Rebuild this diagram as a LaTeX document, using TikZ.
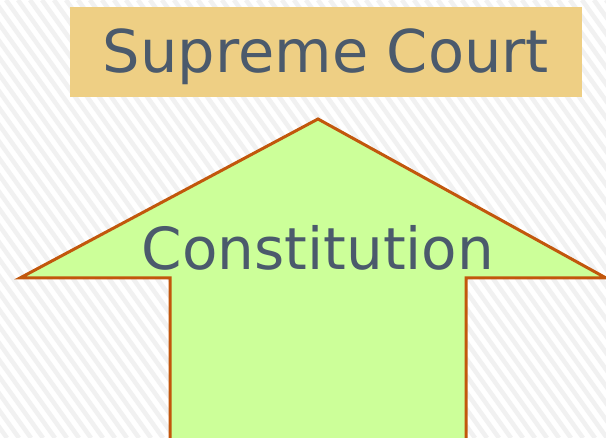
\documentclass[tikz,border=0pt]{standalone}
\usepackage{fontspec}
\setmainfont{DejaVu Sans}
\usepackage{tikz}
\usetikzlibrary{positioning}
\definecolor{slate}{HTML}{4B5A6C}
\definecolor{gold}{HTML}{EECF84}
\definecolor{lime}{HTML}{CCFF99}
\definecolor{rust}{HTML}{C2570C}
\definecolor{stripe}{HTML}{F1F1F1}

\begin{document}
\begin{tikzpicture}[
  x=1pt, y=-1pt,
  label/.style={text=slate, inner sep=0pt},
  court/.style={fill=gold, minimum width=512pt, minimum height=90pt,
                inner sep=0pt, font=\fontsize{59}{62}\selectfont},
  uparrow/.style={fill=lime, draw=rust, line width=3pt, line join=miter}
]
% Background with diagonal stripes
\fill[white] (0,0) rectangle (606,438);
\useasboundingbox (0,0) rectangle (606,438);
\begin{scope}
  \clip (0,0) rectangle (606,438);
  \foreach \x in {-330,-318,...,610}
    \draw[stripe, line width=4.5pt] (\x,0) -- ++(313,438);
\end{scope}
% Top box
\node[court, label] (top) at (326,52) {};
\node[label, font=\fontsize{59}{62}\selectfont] (toptext) at (326,57) {Supreme Court};
% Up arrow
\draw[uparrow] (318,119) -- (606,278) -- (466,278) -- (466,445)
  -- (170,445) -- (170,278) -- (20,278) -- cycle;
\node[label, font=\fontsize{58}{60}\selectfont] (base) at (318,248) {Constitution};
\end{tikzpicture}
\end{document}
